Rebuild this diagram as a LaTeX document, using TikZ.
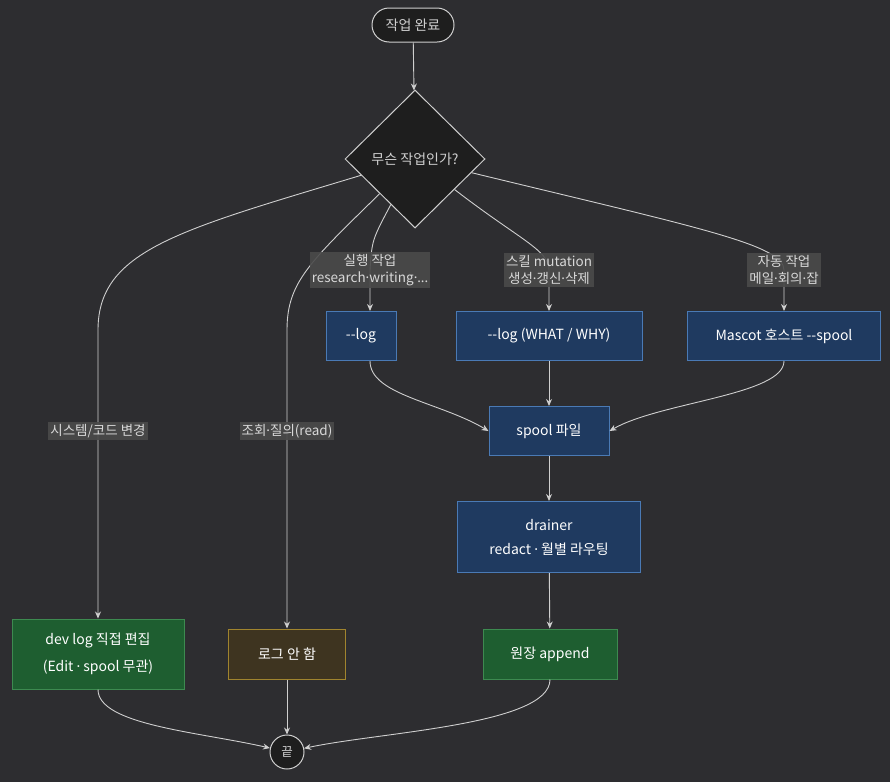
\documentclass[tikz,border=0pt]{standalone}
\usepackage{fontspec}
\setmainfont{Noto Sans CJK KR}
\newfontfamily\latinfont{Noto Sans}
\newcommand{\md}{{\latinfont ·}}
\usetikzlibrary{shapes.geometric,arrows.meta}
\definecolor{bgc}{HTML}{2D2D30}
\definecolor{linec}{HTML}{CFCFCF}
\definecolor{darkc}{HTML}{1E1E1E}
\definecolor{lblc}{HTML}{4A4A4A}
\definecolor{lblt}{HTML}{D8D8D8}
\definecolor{bluefill}{HTML}{1F3A60}
\definecolor{blueline}{HTML}{4A7AB5}
\definecolor{greenfill}{HTML}{1E5E30}
\definecolor{greenline}{HTML}{3D8A50}
\definecolor{brownfill}{HTML}{3E3420}
\definecolor{brownline}{HTML}{A0842E}

\begin{document}
\begin{tikzpicture}[x=1pt, y=-1pt, font=\fontsize{14pt}{18pt}\selectfont,
  edge/.style = {draw=linec, line width=0.9pt, -{Stealth[length=7pt,width=6pt]}},
  term/.style = {draw=linec, fill=darkc, text=linec, line width=1pt},
  box/.style = {rectangle, line width=1pt, text=white, align=center, inner sep=0pt, minimum height=49pt},
  bluebox/.style = {box, draw=blueline, fill=bluefill},
  greenbox/.style = {box, draw=greenline, fill=greenfill},
  brownbox/.style = {box, draw=brownline, fill=brownfill},
  lbl/.style = {fill=lblc, fill opacity=0.9, text opacity=1, text=lblt, inner sep=2pt, align=center,
                font=\fontsize{13.5pt}{17pt}\selectfont}]

  % background and page size
  \fill[bgc] (0,0) rectangle (890,782);
  \useasboundingbox (0,0) rectangle (890,782);

  \node[term, rectangle, rounded corners=17pt, minimum width=82pt, minimum height=34pt] (start) at (413,25) {작업 완료};
  \node[term, diamond, minimum width=140pt, minimum height=138pt, inner sep=0pt] (q) at (415,159) {무슨 작업인가?};

  \node[bluebox, minimum width=70pt] (log1) at (361,336) {-{}-log};
  \node[bluebox, minimum width=186pt] (log2) at (549,336) {-{}-log (WHAT / WHY)};
  \node[bluebox, minimum width=193pt] (mascot) at (784,336) {Mascot 호스트 -{}-spool};
  \node[bluebox, minimum width=120pt] (spool) at (549,431) {spool 파일};
  \node[bluebox, minimum width=183pt, minimum height=71pt, font=\fontsize{14pt}{24pt}\selectfont] (drainer) at (549,537) {drainer\\redact \md{} 월별 라우팅};

  \node[greenbox, minimum width=172pt, minimum height=70pt, font=\fontsize{14pt}{27pt}\selectfont] (devlog) at (98,654) {dev log 직접 편집\\(Edit \md{} spool 무관)};
  \node[brownbox, minimum width=117pt, minimum height=50pt] (nolog) at (287,654) {로그 안 함};
  \node[greenbox, minimum width=134pt, minimum height=50pt] (ledger) at (550,654) {원장 append};

  \node[term, circle, minimum size=34pt, inner sep=0pt, font=\fontsize{12.5pt}{14pt}\selectfont] (end) at (287,752) {끝};

  % edges
  \draw[edge] (start) -- (q);
  \path[edge] (q) .. controls (180,230) and (98,250) .. (98,330) -- (98,431) node[lbl] {시스템/코드 변경} -- (devlog);
  \path[edge] (q) .. controls (310,262) and (287,282) .. (287,330) -- (287,431) node[lbl] {조회\md{}질의(read)} -- (nolog);
  \path[edge] (q) .. controls (372,240) .. (370,270) node[lbl] {실행 작업\\research\md{}writing\md{}{\latinfont ...}} -- ([xshift=9pt]log1.north);
  \path[edge] (q) .. controls (520,240) and (549,250) .. (549,270) node[lbl] {스킬 mutation\\생성\md{}갱신\md{}삭제} -- (log2);
  \path[edge] (q) .. controls (700,228) and (784,245) .. (784,270) node[lbl] {자동 작업\\메일\md{}회의\md{}잡} -- (mascot);

  \draw[edge] ([xshift=9pt]log1.south) .. controls (370,395) and (440,402) .. (spool.west);
  \draw[edge] (log2) -- (spool);
  \draw[edge] (mascot.south) .. controls (784,395) and (660,402) .. (spool.east);
  \draw[edge] (spool) -- (drainer);
  \draw[edge] (drainer) -- (ledger);

  \draw[edge] (devlog.south) .. controls (98,725) and (200,732) .. (end);
  \draw[edge] (nolog) -- (end);
  \draw[edge] (ledger.south) .. controls (550,725) and (380,732) .. (end);
\end{tikzpicture}
\end{document}
